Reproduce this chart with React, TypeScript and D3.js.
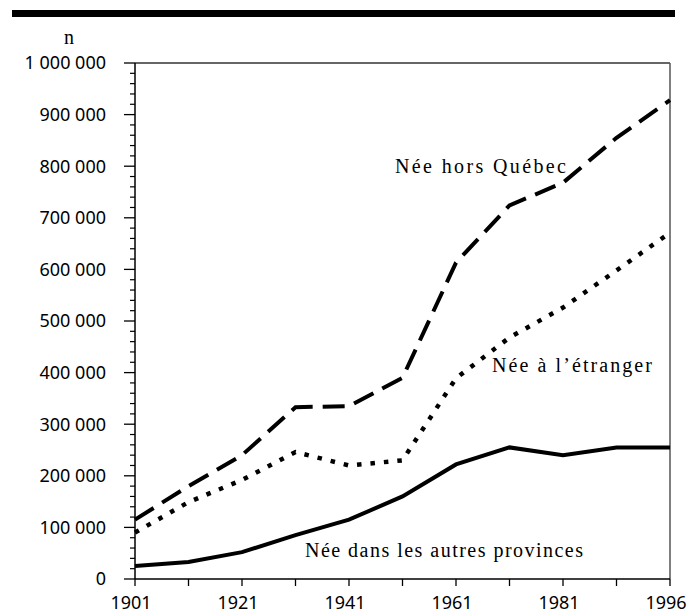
import React from "react";
import * as d3 from "d3";

const years = ["1901", "1911", "1921", "1931", "1941", "1951", "1961", "1971", "1981", "1991", "1996"];
const labeledYears = ["1901", "1921", "1941", "1961", "1981", "1996"];
const horsQuebec = [115000, 180000, 240000, 333000, 335000, 390000, 613000, 724000, 768000, 855000, 928000];
const etranger = [90000, 149000, 192000, 246000, 220000, 230000, 389000, 468000, 526000, 598000, 671000];
const autresProvinces = [25000, 33000, 52000, 85000, 115000, 160000, 222000, 255000, 240000, 255000, 255000];
const yMajorTicks = [0, 100000, 200000, 300000, 400000, 500000, 600000, 700000, 800000, 900000, 1000000];

const W = 688;
const H = 614;
const left = 135;
const right = 670;
const top = 63;
const bottom = 579;

const fmt = (v: number) => d3.format(",")(v).replace(/,/g, " ");

export default function App() {
  const x = d3.scalePoint<string>().domain(years).range([left, right]);
  const y = d3.scaleLinear().domain([0, 1000000]).range([bottom, top]);
  const line = d3
    .line<number>()
    .x((_, i) => x(years[i]) as number)
    .y((d) => y(d));
  const minorTicks = d3.range(0, 1000001, 20000).filter((v) => v % 100000 !== 0);
  const tickFont = "'Noto Sans', sans-serif";
  const serif = "'Liberation Serif', 'Times New Roman', serif";

  return (
    <svg width={W} height={H} style={{ position: "absolute", left: 0, top: 0 }}>
      <rect x={0} y={0} width={W} height={H} fill="#fff" />
      <rect x={12} y={10} width={663} height={7} fill="#000" />
      <text x={69} y={44} fontFamily={serif} fontSize={20} textAnchor="middle" fill="#000">n</text>

      {/* frame */}
      <line x1={left} x2={right} y1={top} y2={top} stroke="#333" strokeWidth={1.5} />
      <line x1={right} x2={right} y1={top} y2={bottom} stroke="#555" strokeWidth={1.5} />

      {/* y axis */}
      <line x1={left} x2={left} y1={top} y2={bottom} stroke="#000" strokeWidth={1.5} />
      {yMajorTicks.map((v) => (
        <g key={"ym" + v}>
          <line x1={left - 11} x2={left} y1={y(v)} y2={y(v)} stroke="#000" strokeWidth={1.3} />
          <text x={106} y={y(v)} dy="0.36em" textAnchor="end" fontFamily={tickFont} fontSize={18} fill="#000">
            {fmt(v)}
          </text>
        </g>
      ))}
      {minorTicks.map((v) => (
        <line key={"yn" + v} x1={left - 5} x2={left} y1={y(v)} y2={y(v)} stroke="#000" strokeWidth={1.2} />
      ))}

      {/* x axis */}
      <line x1={left} x2={right} y1={bottom} y2={bottom} stroke="#000" strokeWidth={1.5} />
      {years.map((yr) => (
        <line key={"xt" + yr} x1={x(yr)} x2={x(yr)} y1={bottom} y2={bottom + 7} stroke="#000" strokeWidth={1.3} />
      ))}
      {labeledYears.map((yr) => (
        <text key={"xl" + yr} x={(x(yr) as number) - 4} y={609} textAnchor="middle" fontFamily={tickFont} fontSize={18} fill="#000">
          {yr}
        </text>
      ))}

      {/* series */}
      <path d={line(horsQuebec) || ""} fill="none" stroke="#000" strokeWidth={4} strokeDasharray="22 10" />
      <path d={line(etranger) || ""} fill="none" stroke="#000" strokeWidth={4.5} strokeDasharray="4.5 9" />
      <path d={line(autresProvinces) || ""} fill="none" stroke="#000" strokeWidth={4} />

      {/* labels */}
      <text x={395} y={173} fontFamily={serif} fontSize={20} textLength={171} lengthAdjust="spacing" fill="#000">Née hors Québec</text>
      <text x={492} y={372} fontFamily={serif} fontSize={20} textLength={160} lengthAdjust="spacing" fill="#000">Née à l’étranger</text>
      <text x={305} y={557} fontFamily={serif} fontSize={20} textLength={278} lengthAdjust="spacing" fill="#000">Née dans les autres provinces</text>
    </svg>
  );
}
